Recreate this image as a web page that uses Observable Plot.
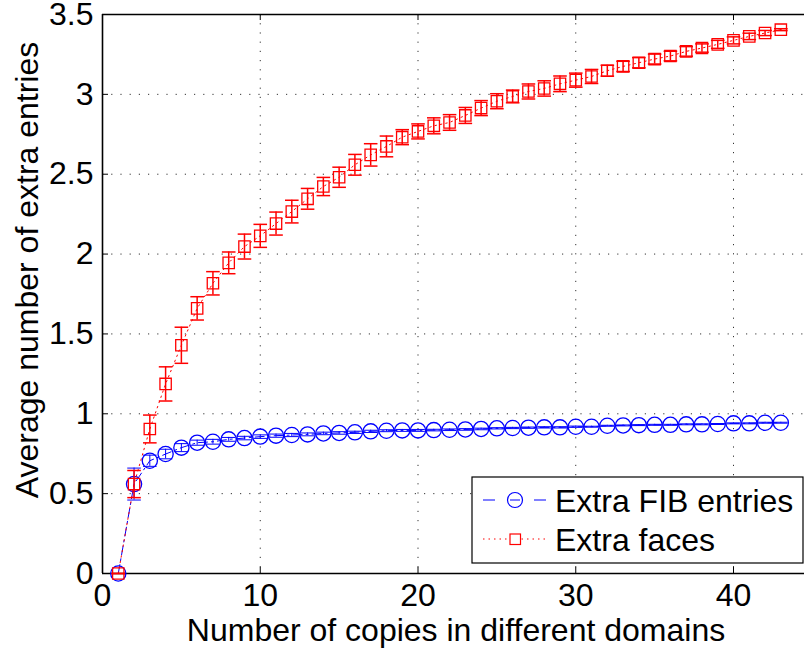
<!DOCTYPE html>
<html><head><meta charset="utf-8">
<script src="https://cdn.jsdelivr.net/npm/d3@7"></script>
<script src="https://cdn.jsdelivr.net/npm/@observablehq/plot@0.6"></script>
<style>html,body{margin:0;padding:0;background:#fff}</style>
</head><body><div id="chart"></div>
<script>
// ---- data ----
const copies = [1,2,3,4,5,6,7,8,9,10,11,12,13,14,15,16,17,18,19,20,21,22,23,24,25,26,27,28,29,30,31,32,33,34,35,36,37,38,39,40,41,42,43];
const fibMean = [0,0.56,0.706,0.748,0.788,0.819,0.825,0.840,0.848,0.857,0.863,0.867,0.871,0.877,0.880,0.884,0.890,0.894,0.896,0.896,0.898,0.900,0.902,0.905,0.909,0.911,0.913,0.915,0.915,0.919,0.919,0.925,0.927,0.929,0.931,0.931,0.934,0.934,0.936,0.940,0.940,0.944,0.944];
const fibErr = [0,0.1,0.035,0.03,0.025,0.016,0.015,0.012,0.011,0.011,0.01,0.01,0.009,0.008,0.008,0.007,0.007,0.006,0.006,0.006,0.005,0.005,0.005,0.005,0.004,0.004,0.004,0.004,0.004,0.004,0.003,0.003,0.003,0.003,0.003,0.003,0.003,0.003,0.003,0.003,0.003,0.003,0.003];
const facesMean = [0,0.56,0.905,1.187,1.429,1.660,1.817,1.945,2.047,2.114,2.191,2.266,2.346,2.423,2.481,2.559,2.621,2.674,2.732,2.768,2.803,2.824,2.868,2.914,2.957,2.987,3.018,3.037,3.066,3.089,3.112,3.148,3.175,3.198,3.221,3.240,3.269,3.290,3.313,3.338,3.363,3.384,3.405];
const facesErr = [0,0.085,0.087,0.107,0.113,0.073,0.073,0.068,0.078,0.072,0.072,0.071,0.065,0.057,0.063,0.065,0.07,0.065,0.047,0.047,0.05,0.049,0.05,0.047,0.047,0.04,0.047,0.048,0.049,0.044,0.044,0.034,0.032,0.032,0.031,0.03,0.03,0.026,0.025,0.022,0.02,0.016,0.006];
const xTicks = [0,10,20,30,40];
const yTicks = [0,0.5,1,1.5,2,2.5,3,3.5];
const seriesNames = ["Extra FIB entries","Extra faces"];
const xLabel = "Number of copies in different domains";
const yLabel = "Average number of extra entries";

// ---- build ----
const fib = copies.map((x,i)=>({x, y: fibMean[i], lo: fibMean[i]-fibErr[i], hi: fibMean[i]+fibErr[i]}));
const faces = copies.map((x,i)=>({x, y: facesMean[i], lo: facesMean[i]-facesErr[i], hi: facesMean[i]+facesErr[i]}));
const cap = {draw(ctx, size){ const r = Math.sqrt(size/Math.PI); ctx.moveTo(-r,0); ctx.lineTo(r,0); }};

const W=804, H=649, mL=102, mR=0, mT=14, mB=76;
const plotW = W-mL-mR, plotH = H-mT-mB;
const FONT = "'Liberation Sans', Arial, Helvetica, sans-serif";
const FS = 32;
const BLUE = "#0000ff", RED = "#ff0000";

function series(data, color, symbol, r, dash, sw) {
  return [
    Plot.line(data, {x:"x", y:"y", stroke: color, strokeWidth: 1, strokeDasharray: dash}),
    Plot.ruleX(data, {x:"x", y1:"lo", y2:"hi", stroke: color, strokeWidth: sw}),
    Plot.dot(data, {x:"x", y:"lo", symbol: cap, r: 6.8, stroke: color, strokeWidth: sw}),
    Plot.dot(data, {x:"x", y:"hi", symbol: cap, r: 6.8, stroke: color, strokeWidth: sw}),
    Plot.dot(data, {x:"x", y:"y", symbol, r, stroke: color, fill: "none", strokeWidth: 1.3})
  ];
}

const chart = Plot.plot({
  width: W, height: H, marginLeft: mL, marginRight: mR, marginTop: mT, marginBottom: mB,
  style: {fontFamily: FONT, fontSize: FS + "px", background: "#fff", color: "#000", overflow: "visible"},
  x: {domain: [0, 44.5], ticks: xTicks},
  y: {domain: [0, 3.5], ticks: yTicks},
  marks: [
    Plot.gridX(xTicks, {stroke: "#000", strokeOpacity: 0.8, strokeDasharray: "1.2,8"}),
    Plot.gridY(yTicks, {stroke: "#000", strokeOpacity: 0.8, strokeDasharray: "1.2,8"}),
    Plot.axisX(xTicks, {tickSize: 0, tickPadding: 10, fontSize: FS, label: null, tickFormat: d => String(d)}),
    Plot.axisY(yTicks, {tickSize: 0, tickPadding: 9, fontSize: FS, label: null, tickFormat: d => String(d)}),
    Plot.tickX(xTicks, {x: d => d, insetTop: plotH-6, stroke: "#000"}),
    Plot.tickX(xTicks, {x: d => d, insetBottom: plotH-6, stroke: "#000"}),
    Plot.tickY(yTicks, {y: d => d, insetRight: plotW-6, stroke: "#000"}),
    Plot.ruleX([0], {stroke: "#000", strokeWidth: 1.6}),
    Plot.ruleY([0, 3.5], {stroke: "#000", strokeWidth: 1.6}),
    ...series(fib, BLUE, "circle", 7.6, "9,4,2,4", 1),
    ...series(faces, RED, "square", 6.4, "1.5,4", 1.5)
  ]
});
document.getElementById("chart").appendChild(chart);

// axis titles and legend (real text)
const svg = d3.select(chart);
svg.append("text").attr("x", 456).attr("y", 641).attr("text-anchor", "middle")
  .attr("font-family", FONT).attr("font-size", FS).attr("fill", "#000").text(xLabel);
svg.append("text").attr("transform", "translate(38,270) rotate(-90)").attr("text-anchor", "middle")
  .attr("font-family", FONT).attr("font-size", FS).attr("fill", "#000").text(yLabel);

const lg = svg.append("g").attr("text-anchor", "start");
lg.append("rect").attr("x", 472).attr("y", 477).attr("width", 331).attr("height", 86)
  .attr("fill", "#fff").attr("stroke", "#000").attr("stroke-width", 1.2);
// row 1
lg.append("line").attr("x1", 483).attr("x2", 546).attr("y1", 500).attr("y2", 500)
  .attr("stroke", BLUE).attr("stroke-dasharray", "12,39");
lg.append("circle").attr("cx", 515).attr("cy", 500).attr("r", 7.5).attr("fill", "none").attr("stroke", BLUE).attr("stroke-width", 1.2);
lg.append("line").attr("x1", 510).attr("x2", 520).attr("y1", 500).attr("y2", 500).attr("stroke", BLUE);
lg.append("text").attr("x", 555).attr("y", 512).attr("text-anchor", "start").attr("font-family", FONT).attr("font-size", FS).attr("fill", "#000").text(seriesNames[0]);
// row 2
lg.append("line").attr("x1", 483).attr("x2", 546).attr("y1", 539).attr("y2", 539)
  .attr("stroke", RED).attr("stroke-dasharray", "1.5,4");
lg.append("rect").attr("x", 510).attr("y", 534).attr("width", 10.5).attr("height", 10.5).attr("fill", "#fff").attr("stroke", RED).attr("stroke-width", 1.2);
lg.append("text").attr("x", 555).attr("y", 551).attr("text-anchor", "start").attr("font-family", FONT).attr("font-size", FS).attr("fill", "#000").text(seriesNames[1]);
</script>
</body></html>
